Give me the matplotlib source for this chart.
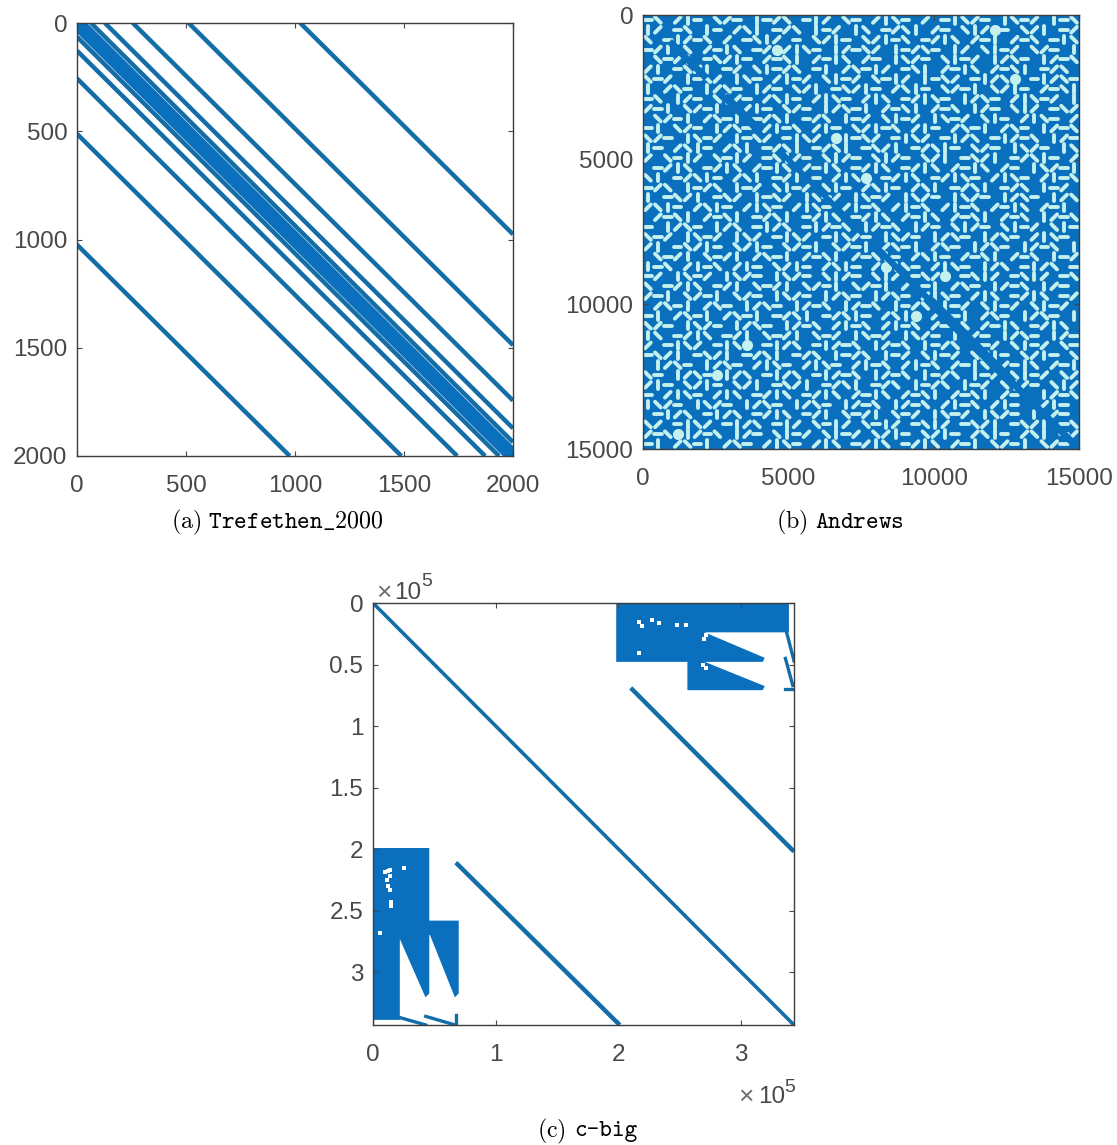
import numpy as np
import matplotlib
matplotlib.use('Agg')
import matplotlib.pyplot as plt

W, H = 1117, 1145
BLUE = '#0a6fbd'
LINE = '#136ea8'
TXT = '#484848'
PALE = '#c4f0ee'

plt.rcParams['font.family'] = ['Liberation Sans', 'DejaVu Sans']
plt.rcParams['mathtext.fontset'] = 'cm'

# ---- Trefethen_2000: offsets of the nonzero diagonals
tref_n = 2000
tref_band = [1, 2, 4, 8, 16, 32]
tref_outer = [64, 128, 256, 512, 1024]
tref_ticks = [0, 500, 1000, 1500, 2000]

# ---- Andrews: gaps in the pattern, read on a 44 x 44 grid
# '-', '|', '/', 'v' (the other slant) = thin gap of that direction
# 'O' = large gap, '#' = filled
and_n = 15000
and_ticks = [0, 5000, 10000, 15000]
and_rows = [
    "-v#/|-#v/-#|-/v#-|/#v-#/|v-#/#-|v/-#|v-/#|-v",
    "|/#-v#|-#/v|#-/v#|-/#|v#-/v|#/-#v|/O-#v/|#-/",
    "v#-|/-v#/#-v|/#-#v/|-#v/|-v#-/|v#/-|#/-v#-|v",
    "-/|#v#/-|v#-/O/|v-#|/-v/#|-/v-#|/#v|-/#v/-#|",
    "#v-/|#-v/|-#/-v|#/-|v#/-#|v/-#v|-/#|/v-#|/-v",
    "/|#-v/|#-/#v|-/v#-|#/v-|/#-v|#/-|v#/-v|#-/v#",
    "v-/#|-v/#|v-#/|-/#v|-/#v-|/#|-v/#-|/vO#-|/v-",
    "|#/v-#|/v-#|/-#v/|#-v/|-#/v|-#v/-|#v/|-#/-v|",
    "-v#|/-#v|/-#/v|-#/|v-#/|v#-/|v-#|/v-#/|v-/#|",
    "/-|#v/-|#v/|-#v/-#|/v-|#/-v|#/-v#|/-#v|/#-v/",
    "#v/-|#/v-|#-/v|#-/v#|-/#v|-/#|v-/#v|-#/|v-#/",
    "-|#v/-#|/v-#/|-v#/|-#v/|-v#/|-#/v-|#/v-#|/-v",
    "v/-#|v-/#|-v/#-|v/#O|-v/#-|v/#-|/v#-|/-v#|/-",
    "|-#/v|-#/v|#-/v|#-/v|#-v/|#-/v|-#v/-#|v/-#|v",
    "/#v-|/#v-|/#-v|/-#v|/-#v|/-#v/|#-v/|#-/v|-#/",
    "#-/|v#-/|v#/-|v#/-|v#-/|v#-/|v#/-|v#/-#|v/-|",
    "v|#-/v|-#/v|#-/|v-#/|vO#-/|v#-/|v-#/|v-#/|-v",
    "-/v#|-/v#|-/#v|-/#v|-#/v|-#/v|#-/v|#-/v#|-/#",
    "|#-v/|#-v/#|-v/#|v-/#|v-/#|v/-#|v/-#|/v-#|/v",
    "/v|-#/v|-#/|v-#/|v-#/|-v#/|-v#/|-v#/-|v#/-|#",
    "#/-v|#/-v|#-/v|#-/|v#-/|v#/-|v#/-v|#/-v#|/-v",
    "-#|/v-#|/v#-|/v#-|/-v#|/-v#|/-#v|/-#v|-/#v|-",
    "v-/#|v-/#|v/#-|v/#-|v/-#|v/-#|/v-#|/v-#/|v-#",
    "/|#-v/|-#v/|-#v/-|#v/-|#/v-|#/v-#|/v-#|/-v#|",
    "#v-/|#v-/|#/v-|#/-v|#/-v|-#/v|-#/-v|#/-v#|-/",
    "|-v#/|-v#/|-#v/|-#/v|-#/O|v-#/|v-#|/v#-|/v#-",
    "-/#|v-/#|v/-#|v/-#v|/-#v|/#-v/O#-v|/#-v|/#-v",
    "v#-/|v#-/|#v-/|#v/-|#v/-|#/v-|#/v-#|/-v#|/-#",
    "/-|#v/-|#v/-#|v/-#|/v-#|/v-#/|v-#/|v#-/|v#-/",
    "#/v-|#/v-#|/v-#|/-v#|/-v#|-/v#|-/#v|-/#v|-/#",
    "-|#/v-|#/v-|#-/v|#-/v|-#/v|O#/v-|#/v-#|/v-#|",
    "v/-#|v/-#|/v-#|/-v#/|-v#/|-v#/-|v#/-|v#-/|v#",
    "|v#-/|v#-/|#v-/|#v-/#|v-/#|v/-#|v/-#|/v-#|/-",
    "/#-|v/#-|vO#-|/v#-|/-v#|/-v#|-/v#|-/#v|-/#v-",
    "-v/|#-v/|#-/v|#-/v#|-/v#|-/#v|-/#v/|-#v/|-#v",
    "#|/v-#|/v-#/|v-#/|v-#/|-v#/|-v#/-|v#/-|v#/-|",
    "v-#|/v-O|/v#-|/v#-|/-v#|/-v#|-/v#|-/#v|-/#v/",
    "/|-#v/|-#v/|#-v/|#-/v|#-/v#|-/v#|-/#v|/-#v|/",
    "-#/|v-#/|v#-/|v#-/|v#/-|v#/-v|#/-v|#/-v#|/-v",
    "|v/-#|v/-#|/v-#|/v-#|/-v#|/-v#/|-v#/|-#v/|-#",
    "#-|/v#-|/v#-/|v#-/|#v-/|#v-/#|v-/#|v/-#|v/-#",
    "v/#-|v/#-|/v#-|/#v-|/#v-|/#-v|/#-v/|#-v/|#-v",
    "/-vO|/-v#|/-#v|-/#v|-/#v/|-#v/|-#/v|-#/v|#-/",
    "-|#/v-|#/v-#/|v-#/|v#-/|v#-/|v#/-|#v/-|#v/-#",
]
# stretches where the main diagonal stands out (start, end, line width)
and_diag_start = [1000, 2900, 4800, 7900, 10000, 12600]
and_diag_end = [2100, 3950, 7500, 10000, 12600, 15000]
and_diag_lw = [5.0, 6.0, 4.0, 4.5, 7.0, 5.0]

# ---- c-big, x and y in units of 1e5
cbig_n = 3.43
cbig_xticks = [0, 1, 2, 3]
cbig_yticks = [0, 0.5, 1, 1.5, 2, 2.5, 3]
cbig_yticklabels = ['0', '0.5', '1', '1.5', '2', '2.5', '3']
# upper right blocks
block_tr1_x = [1.99, 3.38, 3.38, 2.66, 3.18, 3.17, 1.99]
block_tr1_y = [0.01, 0.01, 0.23, 0.23, 0.45, 0.47, 0.47]
block_tr2_x = [2.57, 2.66, 3.18, 3.17, 2.57]
block_tr2_y = [0.47, 0.47, 0.68, 0.70, 0.70]
# lower left blocks
block_bl1_x = [0.0, 0.45, 0.45, 0.43, 0.21, 0.21, 0.0]
block_bl1_y = [2.00, 2.00, 3.17, 3.19, 2.69, 3.38, 3.38]
block_bl2_x = [0.45, 0.69, 0.69, 0.67, 0.47, 0.45]
block_bl2_y = [2.59, 2.59, 3.17, 3.19, 2.69, 2.69]
# small holes inside the blocks
hole_x = [0.10, 0.12, 0.14, 0.14, 0.11, 0.125, 0.14, 0.145, 0.15, 0.25, 0.06,
          2.17, 2.19, 2.27, 2.33, 2.48, 2.55, 2.71, 2.70, 2.69, 2.71, 2.17]
hole_y = [2.19, 2.18, 2.17, 2.22, 2.25, 2.30, 2.33, 2.43, 2.46, 2.15, 2.68,
          0.154, 0.19, 0.14, 0.165, 0.18, 0.18, 0.26, 0.29, 0.50, 0.53, 0.41]
# diagonal segments
seg_x0 = [0.0, 2.10, 0.675]
seg_y0 = [0.0, 0.69, 2.11]
seg_x1 = [3.43, 3.43, 2.01]
seg_y1 = [3.43, 2.02, 3.43]
seg_lw = [2.6, 3.2, 3.2]
# the short broken pieces at the edges
bit_x0 = [3.37, 3.36, 3.36, 0.22, 0.43, 0.68]
bit_y0 = [0.24, 0.45, 0.70, 3.37, 3.36, 3.35]
bit_x1 = [3.43, 3.42, 3.43, 0.43, 0.67, 0.68]
bit_y1 = [0.47, 0.67, 0.70, 3.43, 3.43, 3.43]

# stroke direction of each gap code, in grid cells
stroke_dx = {'-': 0.38, '|': 0.0, '/': 0.29, 'v': 0.29}
stroke_dy = {'-': 0.0, '|': 0.38, '/': -0.29, 'v': 0.29}


def make_axes(fig, x0, y0, x1, y1):
    # box given in picture pixels, y going down
    ax = fig.add_axes([x0 / W, 1 - y1 / H, (x1 - x0) / W, (y1 - y0) / H])
    ax.tick_params(direction='in', length=3.5, width=0.8, color=TXT,
                   labelcolor=TXT, labelsize=17.5, top=True, right=True)
    ax.tick_params(axis='x', pad=14)
    ax.tick_params(axis='y', pad=7)
    for s in ax.spines.values():
        s.set_color('#3c3c3c')
        s.set_linewidth(1.0)
    return ax


fig = plt.figure(figsize=(W / 100, H / 100), dpi=100)

# ==== (a) ====
ax = make_axes(fig, 77, 23, 513, 456)
for k in tref_band + tref_outer:
    col = BLUE if k in tref_band else LINE
    ax.plot([k, tref_n], [0, tref_n - k], color=col, lw=3.2, solid_capstyle='butt')
    ax.plot([0, tref_n - k], [k, tref_n], color=col, lw=3.2, solid_capstyle='butt')
ax.plot([0, tref_n], [0, tref_n], color=BLUE, lw=3.2)
ax.set_xlim(0, tref_n)
ax.set_ylim(tref_n, 0)
ax.set_xticks(tref_ticks)
ax.set_yticks(tref_ticks)

# ==== (b) ====
ax = make_axes(fig, 643, 15, 1079, 449)
ax.set_facecolor(BLUE)
cell = and_n / len(and_rows)
big_x, big_y = [], []
for i, r in enumerate(and_rows):
    for j, c in enumerate(r):
        x = (j + 0.5) * cell
        y = (i + 0.5) * cell
        if c in stroke_dx:
            dx = stroke_dx[c] * cell
            dy = stroke_dy[c] * cell
            ax.plot([x - dx, x + dx], [y - dy, y + dy], color=PALE, lw=2.8,
                    solid_capstyle='round')
        elif c == 'O':
            big_x.append(x)
            big_y.append(y)
ax.plot(big_x, big_y, 'o', color=PALE, ms=8, mew=0)
for a, b, lw in zip(and_diag_start, and_diag_end, and_diag_lw):
    ax.plot([a, b], [a, b], color=BLUE, lw=lw)
ax.set_xlim(0, and_n)
ax.set_ylim(and_n, 0)
ax.set_xticks(and_ticks)
ax.set_yticks(and_ticks)

# ==== (c) ====
ax = make_axes(fig, 373, 603, 794, 1025)
for bx, by in [(block_tr1_x, block_tr1_y), (block_tr2_x, block_tr2_y),
               (block_bl1_x, block_bl1_y), (block_bl2_x, block_bl2_y)]:
    ax.fill(bx, by, color=BLUE, lw=1.5)
ax.plot(hole_x, hole_y, 's', color='white', ms=2.4, mew=0)
for x0, y0, x1, y1, lw in zip(seg_x0, seg_y0, seg_x1, seg_y1, seg_lw):
    ax.plot([x0, x1], [y0, y1], color=LINE, lw=lw, solid_capstyle='butt')
for x0, y0, x1, y1 in zip(bit_x0, bit_y0, bit_x1, bit_y1):
    ax.plot([x0, x1], [y0, y1], color=LINE, lw=2.4)
ax.set_xlim(0, cbig_n)
ax.set_ylim(cbig_n, 0)
ax.set_xticks(cbig_xticks)
ax.set_yticks(cbig_yticks)
ax.set_yticklabels(cbig_yticklabels)


def fig_text(x, y, s, **kw):
    fig.text(x / W, 1 - y / H, s, va='center', ha='left', color=TXT, **kw)


# the x10^5 exponents of panel (c)
fig_text(376, 593, '\u00d7', fontsize=19, alpha=0.8)
fig_text(394, 593, '10', fontsize=17.5)
fig_text(421, 581, '5', fontsize=14)
fig_text(738, 1097, '\u00d7', fontsize=19, alpha=0.8)
fig_text(758, 1097, '10', fontsize=17.5)
fig_text(784, 1087, '5', fontsize=14)

# captions
fig.text(277 / W, 1 - 522 / H, r'$\mathrm{(a)}\ \mathtt{Trefethen\_2000}$',
         ha='center', va='center', fontsize=17.3, color='black')
fig.text(840 / W, 1 - 522 / H, r'$\mathrm{(b)}\ \mathtt{Andrews}$',
         ha='center', va='center', fontsize=17.3, color='black')
fig.text(566 / W, 1 - 1131 / H, r'$\mathrm{(c)}$',
         ha='right', va='center', fontsize=17.3, color='black')
fig.text(574 / W, 1 - 1131 / H, 'c-big', family='cmtt10',
         ha='left', va='center', fontsize=17.3, color='black')

fig.savefig('out.png', dpi=100, facecolor='white')
